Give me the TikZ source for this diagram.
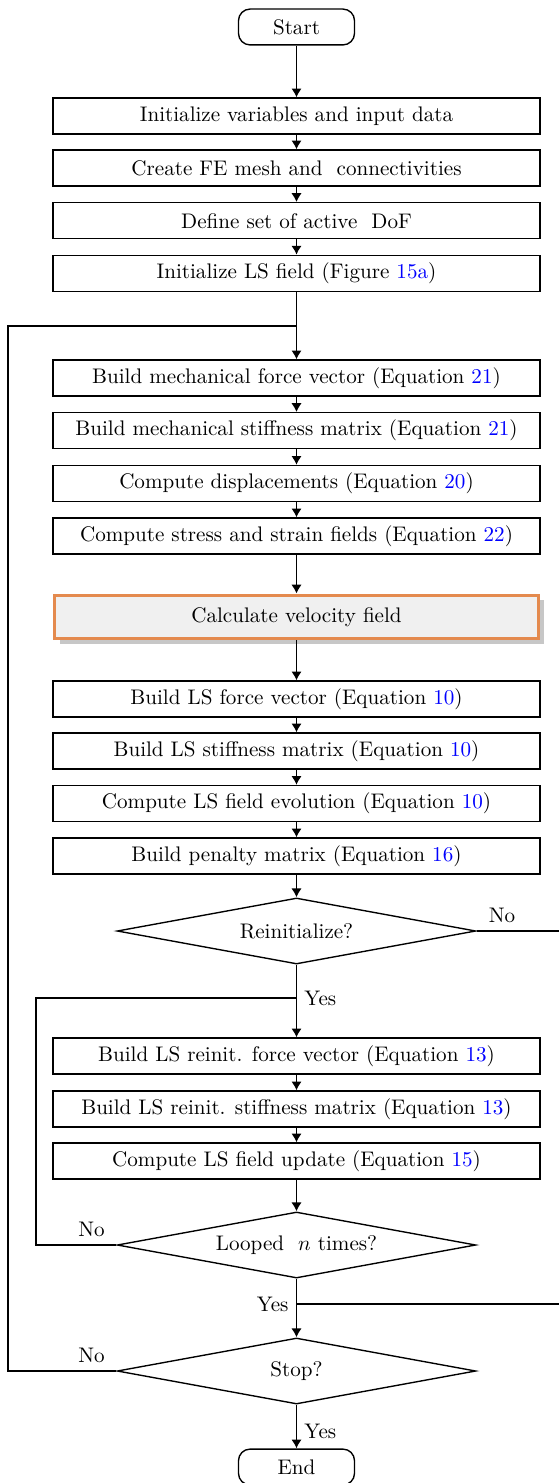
\documentclass[tikz,border=0pt]{standalone}
\usetikzlibrary{shapes.geometric,arrows.meta,shadows}
\definecolor{velorange}{RGB}{228,138,78}
\newcommand{\eqn}[1]{\textcolor{blue}{#1}}

\begin{document}
\begin{tikzpicture}[x=0.474pt,y=-0.474pt,
    box/.style={draw,line width=0.65pt,minimum width=230.8pt,minimum height=17pt,inner sep=0pt},
    term/.style={draw,line width=0.65pt,rounded corners=5.5pt,minimum width=55pt,minimum height=17pt,inner sep=0pt},
    cond/.style={draw,diamond,aspect=5.44,line width=0.65pt,minimum width=170pt,minimum height=31.3pt,inner sep=0pt},
    velbox/.style={draw=velorange,fill=black!6,line width=1.4pt,minimum width=229.5pt,minimum height=20.8pt,inner sep=0pt,
        drop shadow={shadow xshift=2.7pt,shadow yshift=-2.4pt,fill=black!22,opacity=1}},
    flow/.style={line width=0.9pt,-{Latex[length=4.2pt,width=5pt]}},
    link/.style={line width=0.9pt}]
        \useasboundingbox (0,0) rectangle (559,1483);
        \coordinate (cs) at (296.5,27);
        \coordinate (c1) at (296.5,116);
        \coordinate (c2) at (296.5,168);
        \coordinate (c3) at (296.5,220.7);
        \coordinate (c4) at (296.5,273.3);
        \coordinate (j1) at (296.5,326);
        \coordinate (c5) at (296.5,378);
        \coordinate (c6) at (296.5,430.7);
        \coordinate (c7) at (296.5,483.5);
        \coordinate (c8) at (296.5,536);
        \coordinate (cv) at (296.5,617);
        \coordinate (c9) at (296.5,699);
        \coordinate (c10) at (296.5,751);
        \coordinate (c11) at (296.5,803.5);
        \coordinate (c12) at (296.5,856);
        \coordinate (cr) at (296.5,931);
        \coordinate (j2) at (296.5,998);
        \coordinate (c13) at (296.5,1056);
        \coordinate (c14) at (296.5,1109);
        \coordinate (c15) at (296.5,1161);
        \coordinate (cl) at (296.5,1245);
        \coordinate (j3) at (296.5,1304);
        \coordinate (cq) at (296.5,1371);
        \coordinate (ce) at (296.5,1467);
        \coordinate (o1) at (8,326);
        \coordinate (o2) at (36,998);
        \coordinate (r1) at (559,931);
        \coordinate (r2) at (559,1304);
        \node[term] (start) at (cs) {Start};
        \node[box] (b1) at (c1) {Initialize variables and input data};
        \node[box] (b2) at (c2) {Create FE mesh and~ connectivities};
        \node[box] (b3) at (c3) {Define set of active~ DoF};
        \node[box] (b4) at (c4) {Initialize LS field (Figure \eqn{15a})};
        \node[box] (b5) at (c5) {Build mechanical force vector (Equation \eqn{21})};
        \node[box] (b6) at (c6) {Build mechanical stiffness matrix (Equation \eqn{21})};
        \node[box] (b7) at (c7) {Compute displacements (Equation \eqn{20})};
        \node[box] (b8) at (c8) {Compute stress and strain fields (Equation \eqn{22})};
        \node[velbox] (vel) at (cv) {Calculate velocity field};
        \node[box] (b9) at (c9) {Build LS force vector (Equation \eqn{10})};
        \node[box] (b10) at (c10) {Build LS stiffness matrix (Equation \eqn{10})};
        \node[box] (b11) at (c11) {Compute LS field evolution (Equation \eqn{10})};
        \node[box] (b12) at (c12) {Build penalty matrix (Equation \eqn{16})};
        \node[cond] (reinit) at (cr) {Reinitialize?};
        \node[box] (b13) at (c13) {Build LS reinit. force vector (Equation \eqn{13})};
        \node[box] (b14) at (c14) {Build LS reinit. stiffness matrix (Equation \eqn{13})};
        \node[box] (b15) at (c15) {Compute LS field update (Equation \eqn{15})};
        \node[cond] (looped) at (cl) {Looped~ $n$ times?};
        \node[cond] (stop) at (cq) {Stop?};
        \node[term] (finish) at (ce) {End};
        \draw[flow] (start) -- (b1);
        \draw[flow] (b1) -- (b2);
        \draw[flow] (b2) -- (b3);
        \draw[flow] (b3) -- (b4);
        \draw[link] (b4) -- (j1);
        \draw[flow] (j1) -- (b5);
        \draw[flow] (b5) -- (b6);
        \draw[flow] (b6) -- (b7);
        \draw[flow] (b7) -- (b8);
        \draw[flow] (b8) -- (vel);
        \draw[flow] (vel) -- (b9);
        \draw[flow] (b9) -- (b10);
        \draw[flow] (b10) -- (b11);
        \draw[flow] (b11) -- (b12);
        \draw[flow] (b12) -- (reinit);
        \draw[link] (reinit) -- (j2) node[right] {Yes};
        \draw[link] (reinit.east) -- node[above,pos=0.31] {No} (r1);
        \draw[flow] (j2) -- (b13);
        \draw[flow] (b13) -- (b14);
        \draw[flow] (b14) -- (b15);
        \draw[flow] (b15) -- (looped);
        \draw[link] (looped.west) -- node[above,pos=0.31] {No} (looped.west -| o2) -- (o2) -- (j2);
        \draw[link] (looped) -- (j3) node[left] {Yes};
        \draw[link] (j3) -- (r2);
        \draw[flow] (j3) -- (stop);
        \draw[link] (stop.west) -- node[above,pos=0.23] {No} (stop.west -| o1) -- (o1) -- (j1);
        \draw[flow] (stop) -- node[right,pos=0.6] {Yes} (finish);
    \end{tikzpicture}
\end{document}
